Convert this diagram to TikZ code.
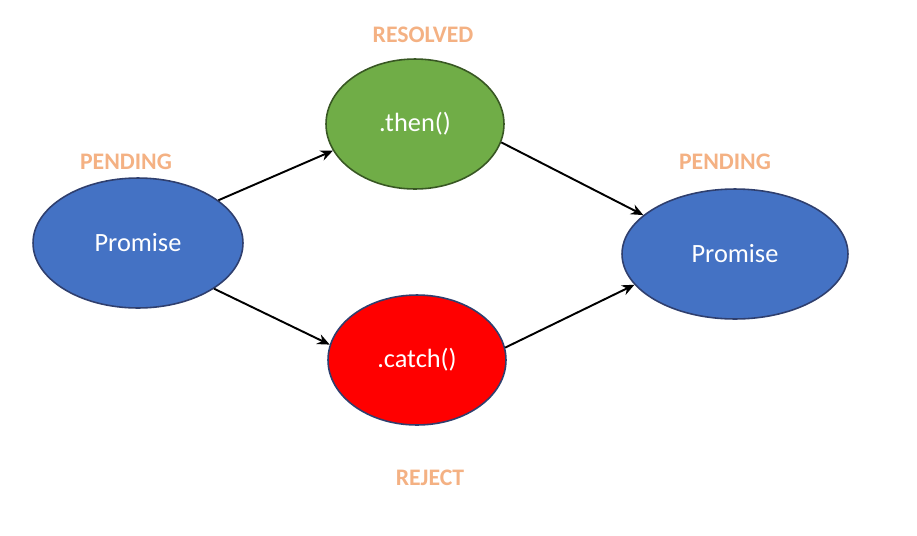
\documentclass[tikz,border=0pt]{standalone}
\usepackage{fontspec}
\setmainfont{Carlito}
\usetikzlibrary{shapes.geometric,arrows.meta}
\definecolor{pblue}{HTML}{4472C4}
\definecolor{pgreen}{HTML}{70AD47}
\definecolor{lab}{HTML}{F4B183}
\begin{document}
\begin{tikzpicture}[x=0.02cm,y=-0.02cm,
  st/.style={ellipse,inner sep=0pt,line width=0.9pt,text=white,font=\fontsize{15}{18}\selectfont},
  lbl/.style={text=lab,font=\bfseries\fontsize{13.5}{16}\selectfont},
  con/.style={-{Stealth[length=7pt,width=6pt]},line width=1.1pt}]
\useasboundingbox (0,0) rectangle (917,535);
\node[st,fill=pblue,draw={rgb,255:red,47;green,63;blue,110},minimum width=210\pgflinewidth*0+4.2cm,minimum height=2.6cm] (L) at (138,243) {Promise};
\node[st,fill=pgreen,draw={rgb,255:red,56;green,87;blue,35},minimum width=3.56cm,minimum height=2.6cm] (T) at (415,124) {.then()};
\node[st,fill=red,draw={rgb,255:red,47;green,63;blue,110},minimum width=3.56cm,minimum height=2.6cm] (C) at (417,360) {.catch()};
\node[st,fill=pblue,draw={rgb,255:red,47;green,63;blue,110},minimum width=4.52cm,minimum height=2.6cm] (R) at (735,254) {Promise};
\node[lbl] (l1) at (126,162) {PENDING};
\node[lbl] (l2) at (423,35) {RESOLVED};
\node[lbl] (l3) at (725,162) {PENDING};
\node[lbl] (l4) at (430,478) {REJECT};
\draw[con] (L.28) -- (T.198);
\draw[con] (T.348) -- (R.157);
\draw[con] (L.329) -- (C.170);
\draw[con] (C.8) -- (R.197);
\end{tikzpicture}
\end{document}
